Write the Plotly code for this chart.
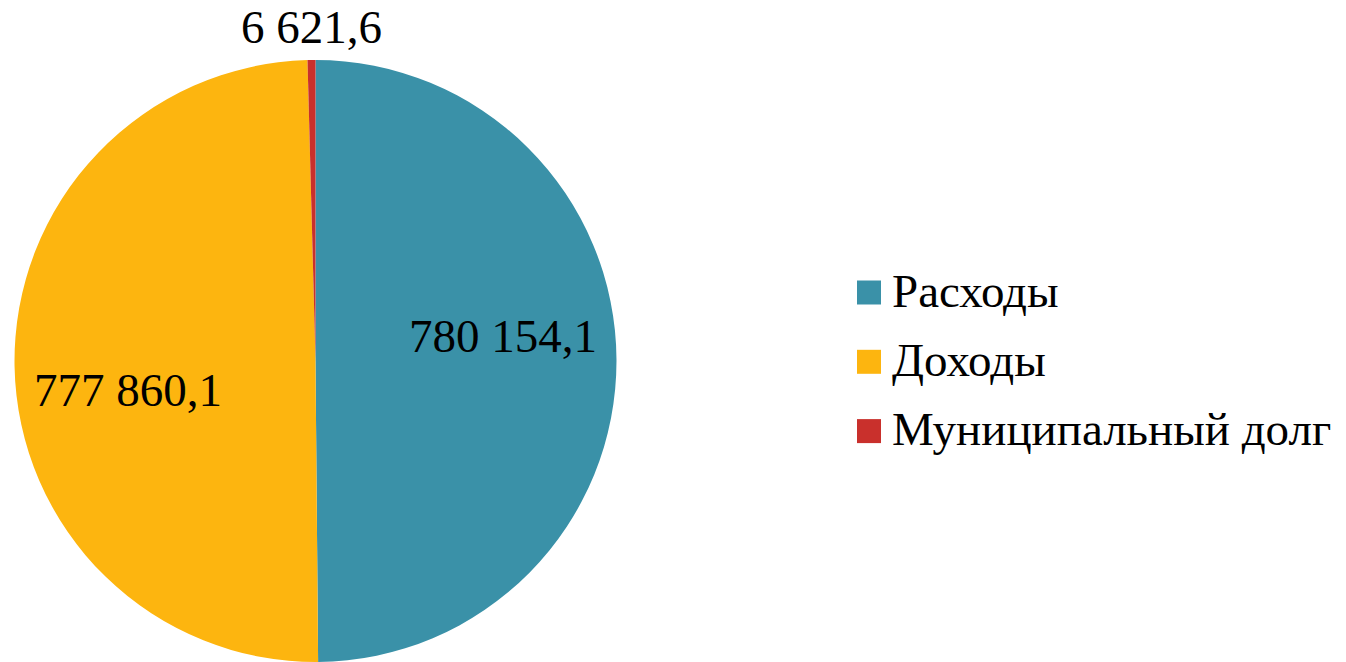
import math
import plotly.graph_objects as go

labels = ["Расходы", "Доходы", "Муниципальный долг"]
values = [780154.1, 777860.1, 6621.6]
colors = ["#3A91A8", "#FDB50F", "#C9302C"]

W, H = 1346, 662
FONT = "Liberation Serif, Times New Roman, serif"
LABEL_SIZE = 47
LEGEND_SIZE = 47

# pie geometry (pixels)
CX, CY, R = 315.5, 361, 301

fig = go.Figure()
fig.add_trace(go.Pie(
    labels=labels,
    values=values,
    sort=False,
    direction="clockwise",
    rotation=0,
    marker=dict(colors=colors, line=dict(width=0)),
    textinfo="none",
    domain=dict(x=[(CX - R) / W, (CX + R) / W], y=[(H - CY - R) / H, (H - CY + R) / H]),
    showlegend=False,
    hoverinfo="label+value",
))

# data labels, positioned from each slice's mid-angle
INSIDE_R = 0.63
INSIDE_SHIFT = -7.5
OUTSIDE_R = 1.113
total = sum(values)
cum = 0.0
for v in values:
    frac = v / total
    mid = (cum + frac / 2) * 360.0
    cum += frac
    if frac > 0.05:
        ang, rho = math.radians(mid + INSIDE_SHIFT), INSIDE_R
    else:
        ang, rho = math.radians(mid), OUTSIDE_R
    px = CX + rho * R * math.sin(ang)
    py = CY - rho * R * math.cos(ang) + 1
    txt = f"{v:,.1f}".replace(",", " ").replace(".", ",")
    fig.add_annotation(xref="paper", yref="paper", x=px / W, y=1 - py / H,
                       xanchor="center", yanchor="middle", text=txt,
                       showarrow=False,
                       font=dict(family=FONT, size=LABEL_SIZE, color="black"))

# legend drawn manually to match square size and spacing
leg_x0 = 857
leg_y0 = 292.5
leg_dy = 69.3
sq = 24
for i, (lab, col) in enumerate(zip(labels, colors)):
    yc = leg_y0 + i * leg_dy
    fig.add_shape(type="rect", xref="paper", yref="paper",
                  x0=leg_x0 / W, x1=(leg_x0 + sq) / W,
                  y0=1 - (yc + sq / 2) / H, y1=1 - (yc - sq / 2) / H,
                  fillcolor=col, line=dict(width=0))
    fig.add_annotation(xref="paper", yref="paper", x=(leg_x0 + sq + 9) / W,
                       y=1 - (yc - 2) / H, xanchor="left", yanchor="middle",
                       text=lab, showarrow=False,
                       font=dict(family=FONT, size=LEGEND_SIZE, color="black"))

fig.update_layout(
    width=W, height=H,
    margin=dict(l=0, r=0, t=0, b=0),
    paper_bgcolor="white", plot_bgcolor="white",
)
fig.write_html("out.html", config={"displayModeBar": False},
               post_script="document.body.style.margin='0';")
